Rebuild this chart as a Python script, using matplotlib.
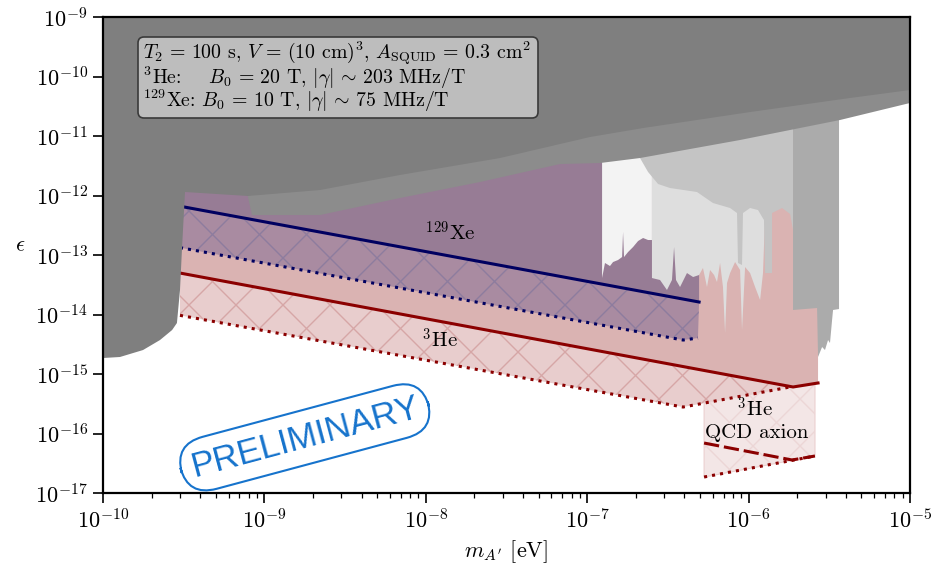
import numpy as np
import matplotlib
matplotlib.use('Agg')
import matplotlib.pyplot as plt
from matplotlib.collections import LineCollection
from matplotlib.patches import FancyBboxPatch
from matplotlib.transforms import IdentityTransform

plt.rcParams['font.family'] = 'serif'
plt.rcParams['font.serif'] = ['cmr10']
plt.rcParams['mathtext.fontset'] = 'cm'
plt.rcParams['axes.formatter.use_mathtext'] = True

# all values are log10(m_A' / eV) and log10(epsilon)
# existing limits (grey)
dark_logm = [-10.0, -9.895, -9.752, -9.647, -9.572, -9.542, -9.523, -9.511, -9.492,
             -9.102, -8.656, -8.160, -7.540, -6.983, -6.654, -5.991, -5.372, -5.0]
dark_logeps = [-14.731, -14.714, -14.597, -14.429, -14.261, -14.143, -13.588, -12.916, -11.941,
               -12.008, -11.908, -11.655, -11.370, -11.017, -10.866, -10.597, -10.361, -10.227]

mid_logm = [-9.102, -9.077, -8.656, -8.160, -7.664, -7.169, -6.921, -6.673, -6.053, -5.434, -5.0]
mid_logeps = [-12.025, -12.328, -12.328, -12.042, -11.773, -11.471, -11.454, -11.370, -11.067, -10.731, -10.445]

f3_logm = [-6.908, -6.890, -6.859, -6.840, -6.809, -6.784, -6.778, -6.772, -6.747, -6.716,
           -6.685, -6.654, -6.623, -6.599]
f3_logeps = [-13.387, -13.134, -13.185, -13.118, -13.084, -13.034, -12.613, -13.034, -12.950, -12.866,
             -12.765, -12.714, -12.748, -12.748]

de_logm = [-6.599, -6.549, -6.506, -6.475, -6.462, -6.450, -6.425, -6.382, -6.344, -6.307,
           -6.283, -6.258, -6.239, -6.214, -6.196, -6.177, -6.159, -6.146, -6.134, -6.115,
           -6.084, -6.053, -6.041, -6.022, -5.991, -5.960, -5.929, -5.911, -5.898]
de_logeps = [-13.387, -13.420, -13.588, -13.420, -12.866, -13.420, -13.538, -13.303, -13.370, -13.336,
             -13.218, -13.538, -13.252, -13.336, -13.454, -13.134, -13.538, -14.311, -13.471, -13.303,
             -13.118, -13.252, -14.261, -13.202, -13.303, -13.538, -13.756, -13.303, -12.328]

c4_logm = [-6.673, -6.623, -6.561, -6.487, -6.320, -6.221, -6.115, -6.072, -6.066, -6.041,
           -6.035, -5.991, -5.942, -5.905, -5.898, -5.855, -5.855, -5.793, -5.743, -5.725]
c4_logeps = [-11.370, -11.605, -11.807, -11.874, -11.941, -12.126, -12.210, -12.294, -13.134, -13.168,
             -12.294, -12.210, -12.244, -12.412, -13.303, -13.303, -12.294, -12.210, -12.311, -12.580]

ab_logm = [-5.725, -5.576, -5.570, -5.545, -5.527, -5.508, -5.496, -5.483, -5.477, -5.440]
ab_logeps = [-13.924, -13.891, -14.714, -14.546, -14.597, -14.429, -14.479, -14.092, -13.924, -13.908]

# projections
xe_solid_logm = [-9.523, -6.307]
xe_solid_logeps = [-12.18, -13.79]
xe_dot_logm = [-9.523, -6.406, -6.314]
xe_dot_logeps = [-12.876, -14.429, -14.395]

he_solid_logm = [-9.523, -5.725, -5.570]
he_solid_logeps = [-13.303, -15.218, -15.151]
he_dot_logm = [-9.523, -6.406, -5.743]
he_dot_logeps = [-14.014, -15.555, -15.218]

qcd_top_logm = [-6.276, -5.743, -5.589]
qcd_top_logeps = [-15.49, -15.218, -15.16]
qcd_dash_logm = [-6.276, -5.731, -5.589]
qcd_dash_logeps = [-16.160, -16.445, -16.378]
qcd_dot_logm = [-6.276, -5.589]
qcd_dot_logeps = [-16.731, -16.378]

info_lines = [r'$T_2 \,=\, 100$ s, $V \,=\, (10$ cm$)^3$, $A_{\mathrm{SQUID}} \,=\, 0.3$ cm$^2$',
              r'$^3$He:$\quad\;\;B_0 \,=\, 20$ T, $|\gamma| \,\sim\, 203$ MHz/T',
              r'$^{129}$Xe: $B_0 \,=\, 10$ T, $|\gamma| \,\sim\, 75$ MHz/T']

TOP = -9.0


def hang(lm, le):
    # region hanging from the top of the plot down to a boundary
    lm = np.asarray(lm)
    le = np.asarray(le)
    return 10**np.r_[lm[0], lm, lm[-1]], 10**np.r_[TOP, le, TOP]


def band(lm1, le1, lm2, le2):
    # polygon between an upper and a lower curve
    return 10**np.r_[lm1, lm2[::-1]], 10**np.r_[le1, le2[::-1]]


def hatch(ax, patch, color, z):
    k = 476 / 807
    step = 47 / 807
    segs = []
    for c in np.arange(-1.0, 2.0, step):
        segs.append([(c, 0), (c + k, 1)])
        segs.append([(c, 0), (c - k, 1)])
    lc = LineCollection(segs, colors=color, linewidths=1.0, transform=ax.transAxes, zorder=z)
    ax.add_collection(lc, autolim=False)
    lc.set_clip_path(patch)


fig = plt.figure(figsize=(9.33, 5.65), dpi=100)
ax = fig.add_axes([0.1104, 0.1274, 0.8650, 0.8425])
ax.set_xscale('log')
ax.set_yscale('log')

# He-3 projection
x, y = hang(he_solid_logm, he_solid_logeps)
ax.fill(x, y, color='#dab3b2', lw=0, zorder=1)
x, y = band(he_solid_logm, he_solid_logeps, he_dot_logm, he_dot_logeps)
p = ax.fill(x, y, color='#e8cdcd', lw=0, zorder=1.1)[0]
hatch(ax, p, '#d6a6a6', 1.15)

# Xe-129 projection
x, y = hang(xe_solid_logm, xe_solid_logeps)
ax.fill(x, y, color='#977c95', lw=0, zorder=1.3)
x, y = band(xe_solid_logm, xe_solid_logeps, xe_dot_logm, xe_dot_logeps)
p = ax.fill(x, y, color='#a98ba1', lw=0, zorder=1.4)[0]
hatch(ax, p, '#8d7c9e', 1.45)

# QCD axion box
x, y = band(qcd_top_logm, qcd_top_logeps, qcd_dot_logm, qcd_dot_logeps)
p = ax.fill(x, y, facecolor='#f3e6e6', edgecolor='#ebd0d0', lw=0.8, zorder=1.6)[0]
hatch(ax, p, '#ecd6d6', 1.65)

# projection lines
xe_c = '#000060'
he_c = '#8b0000'
ax.plot(10**np.array(xe_solid_logm), 10**np.array(xe_solid_logeps), color=xe_c, lw=2.2, zorder=2)
ax.plot(10**np.array(xe_dot_logm), 10**np.array(xe_dot_logeps), color=xe_c, lw=2.2, ls=':', zorder=2)
ax.plot(10**np.array(he_solid_logm), 10**np.array(he_solid_logeps), color=he_c, lw=2.2, zorder=2)
ax.plot(10**np.array(he_dot_logm), 10**np.array(he_dot_logeps), color=he_c, lw=2.2, ls=':', zorder=2)
ax.plot(10**np.array(qcd_dash_logm), 10**np.array(qcd_dash_logeps), color=he_c, lw=2.2,
        ls=(0, (5, 1.6)), zorder=2)
ax.plot(10**np.array(qcd_dot_logm), 10**np.array(qcd_dot_logeps), color=he_c, lw=2.2, ls=':', zorder=2)

# existing constraints
for lm, le, col in [(f3_logm, f3_logeps, '#f3f3f3'),
                    (de_logm, de_logeps, '#dedede'),
                    (c4_logm, c4_logeps, '#c4c4c4'),
                    (ab_logm, ab_logeps, '#ababab'),
                    (mid_logm, mid_logeps, '#8c8c8c'),
                    (dark_logm, dark_logeps, '#7f7f7f')]:
    x, y = hang(lm, le)
    ax.fill(x, y, color=col, lw=0, zorder=3)

# labels
ax.text(10**-7.85, 10**-12.63, r'$^{129}$Xe', fontsize=15, ha='center', va='center', zorder=5)
ax.text(10**-7.91, 10**-14.43, r'$^{3}$He', fontsize=15, ha='center', va='center', zorder=5)
ax.text(10**-5.96, 10**-15.59, r'$^{3}$He', fontsize=15, ha='center', va='center', zorder=5)
ax.text(10**-5.948, 10**-15.99, 'QCD axion', fontsize=15, ha='center', va='center', zorder=5)

# parameter box (drawn in pixels)
box = FancyBboxPatch((143, 452), 390, 71, boxstyle='round,pad=5,rounding_size=6',
                     transform=IdentityTransform(), fc='#bdbdbd', ec='#3a3a3a', lw=1.2, zorder=6)
ax.add_artist(box)
ax.text(0.049, 0.8105, '\n'.join(info_lines), transform=ax.transAxes, fontsize=14.3,
        ha='left', va='baseline', linespacing=0.85, zorder=7)

ax.text(0.25, 0.117, 'PRELIMINARY', transform=ax.transAxes, fontsize=25, color='#1673cc',
        family='Liberation Sans', rotation=15, ha='center', va='center', zorder=6,
        bbox=dict(boxstyle='round,pad=0.3,rounding_size=0.85', fc='none', ec='#1673cc', lw=1.5))

ax.set_xlim(1e-10, 1e-5)
ax.set_ylim(1e-17, 1e-9)
ax.set_xticks(10.0**np.arange(-10, -4))
ax.set_yticks(10.0**np.arange(-17, -8))
ax.xaxis.set_minor_locator(matplotlib.ticker.LogLocator(base=10, subs=np.arange(2, 10), numticks=50))
ax.yaxis.set_minor_locator(matplotlib.ticker.NullLocator())
ax.tick_params(which='major', direction='out', length=7, width=1.2, labelsize=16, pad=4)
ax.tick_params(which='minor', direction='out', length=3.5, width=0.9)
for s in ax.spines.values():
    s.set_linewidth(1.6)
    s.set_zorder(10)

ax.set_xlabel(r"$m_{A'}$ [eV]", fontsize=16)
ax.xaxis.set_label_coords(0.5, -0.095)
ax.set_ylabel(r'$\epsilon$', fontsize=16, rotation=0)
ax.yaxis.set_label_coords(-0.103, 0.50)

fig.savefig('out.png', dpi=100)
